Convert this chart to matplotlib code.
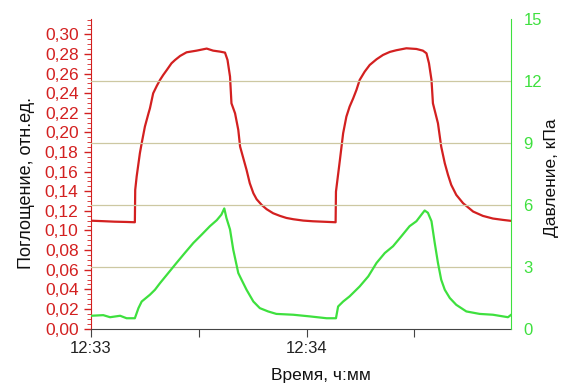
import matplotlib.pyplot as plt
from matplotlib.ticker import MultipleLocator, FixedLocator, FuncFormatter

plt.rcParams['font.family'] = ['Liberation Sans', 'DejaVu Sans']

# Absorption (rel. units), time in seconds after 12:33:00
t_abs = [0, 3.4, 6.5, 9.9, 12.2,
         12.3, 12.7, 13.6, 14.1, 15.0, 16.0, 16.4, 17.3, 18.3, 19.2, 20.1, 21.1,
         22.4, 23.4, 24.8, 26.6, 29.4, 32.2, 34.0, 35.9, 37.3, 38.0, 38.7, 39.1,
         40.1, 41.0, 41.5, 42.4, 43.3, 44.2, 45.2, 46.1, 47.5, 48.9, 50.7, 52.6,
         54.4, 56.3, 59.1, 61.8, 65.6, 68.1,
         68.2, 69.3, 70.2, 71.1, 72.0, 73.0, 73.9, 74.8, 76.2, 77.6, 79.5, 81.3,
         83.2, 85.0, 87.8, 90.6, 92.4, 93.4, 94.1, 94.8, 95.2, 96.6, 97.5, 98.5,
         99.4, 100.3, 101.7, 103.6, 106.4, 109.1, 111.9, 114.7, 117.0]
absorb = [0.1100, 0.1095, 0.1090, 0.1087, 0.1084,
          0.1414, 0.1550, 0.1788, 0.1890, 0.2060, 0.2195, 0.2246, 0.2399, 0.2474,
          0.2535, 0.2586, 0.2637, 0.2705, 0.2739, 0.2780, 0.2817, 0.2834, 0.2855,
          0.2834, 0.2824, 0.2814, 0.2739, 0.2569, 0.2297, 0.2195, 0.2026, 0.1856,
          0.1737, 0.1618, 0.1482, 0.1380, 0.1319, 0.1261, 0.1217, 0.1176, 0.1149,
          0.1128, 0.1115, 0.1101, 0.1094, 0.1088, 0.1084,
          0.1397, 0.1720, 0.1992, 0.2161, 0.2263, 0.2348, 0.2433, 0.2535, 0.2620,
          0.2688, 0.2746, 0.2790, 0.2821, 0.2838, 0.2858, 0.2851, 0.2834, 0.2807,
          0.2705, 0.2535, 0.2297, 0.2093, 0.1856, 0.1686, 0.1567, 0.1465, 0.1363,
          0.1278, 0.1193, 0.1149, 0.1122, 0.1108, 0.1098]

# Pressure, kPa
t_pr = [0, 3.4, 5.3, 8.1, 9.9, 12.2, 13.2, 14.1, 16.4, 17.8, 19.2, 21.5, 23.8,
        26.1, 28.5, 30.8, 33.1, 35.0, 36.3, 37.1, 37.7, 38.7, 39.6, 41.0, 41.9,
        43.3, 45.2, 47.0, 49.3, 51.6, 56.3, 60.9, 65.6, 68.2,
        68.8, 70.2, 72.0, 74.8, 77.2, 79.5, 81.8, 84.1, 86.4, 88.7, 90.6, 92.0,
        92.9, 93.8, 94.8, 95.7, 96.6, 97.5, 98.5, 99.9, 101.7, 104.5, 108.2,
        111.9, 114.7, 116.1, 117.0]
pressure = [0.62, 0.65, 0.55, 0.62, 0.50, 0.50, 0.99, 1.31, 1.64, 1.88, 2.20,
            2.69, 3.18, 3.66, 4.15, 4.55, 4.96, 5.25, 5.52, 5.82, 5.36, 4.80,
            3.82, 2.69, 2.37, 1.88, 1.31, 0.99, 0.83, 0.71, 0.67, 0.59, 0.50, 0.50,
            1.07, 1.31, 1.56, 2.04, 2.53, 3.18, 3.66, 3.99, 4.47, 4.96, 5.20, 5.52,
            5.72, 5.61, 5.20, 4.15, 3.18, 2.37, 1.88, 1.48, 1.15, 0.83, 0.71, 0.67,
            0.59, 0.55, 0.67]

x_ticks = [0, 30, 60, 90]
x_labels = ["12:33", "", "12:34", ""]

red = "#d32020"
green = "#3ee03e"

fig, ax = plt.subplots(figsize=(5.62, 3.87), dpi=100)
fig.subplots_adjust(left=0.162, right=0.909, top=0.951, bottom=0.151)
ax2 = ax.twinx()

ax.plot(t_abs, absorb, color=red, linewidth=1.6, zorder=3)
ax2.plot(t_pr, pressure, color=green, linewidth=1.6, zorder=3)

ax.set_xlim(0, 116.9)
ax.set_ylim(0, 0.3157)
ax2.set_ylim(0, 15)

# gridlines belong to the pressure axis
for g in [3, 6, 9, 12]:
    ax2.axhline(g, color="#cdc8a2", linewidth=0.9, zorder=1)

ax.set_xticks(x_ticks)
ax.set_xticklabels(x_labels)
ax.tick_params(axis='x', colors="#444444", labelcolor="#222222", labelsize=12,
               length=6, direction='out', pad=3)

ax.yaxis.set_major_locator(MultipleLocator(0.02))
ax.yaxis.set_minor_locator(MultipleLocator(0.005))
ax.yaxis.set_major_formatter(FuncFormatter(lambda v, p: f"{v:.2f}".replace(".", ",")))
ax.tick_params(axis='y', colors=red, labelsize=12.5, length=5, width=1, pad=4)
ax.tick_params(axis='y', which='minor', colors=red, length=3)

ax2.yaxis.set_major_locator(FixedLocator([0, 3, 6, 9, 12, 15]))
ax2.tick_params(axis='y', colors=green, labelsize=12, length=0, pad=9)

ax.spines['left'].set_color(red)
ax.spines['bottom'].set_color("#444444")
ax.spines['top'].set_visible(False)
ax.spines['right'].set_visible(False)
ax2.spines['top'].set_visible(False)
ax2.spines['left'].set_visible(False)
ax2.spines['bottom'].set_visible(False)
ax2.spines['right'].set_color(green)

ax.set_ylabel("Поглощение, отн.ед.", fontsize=13, color="#111111")
ax.yaxis.set_label_coords(-0.133, 0.469)
ax2.set_ylabel("Давление, кПа", fontsize=12.5, color="#111111")
ax2.yaxis.set_label_coords(1.078, 0.487)
ax.set_xlabel("Время, ч:мм", fontsize=12.5, color="#111111")
ax.xaxis.set_label_coords(0.548, -0.128)

fig.savefig("out.png", dpi=100)
